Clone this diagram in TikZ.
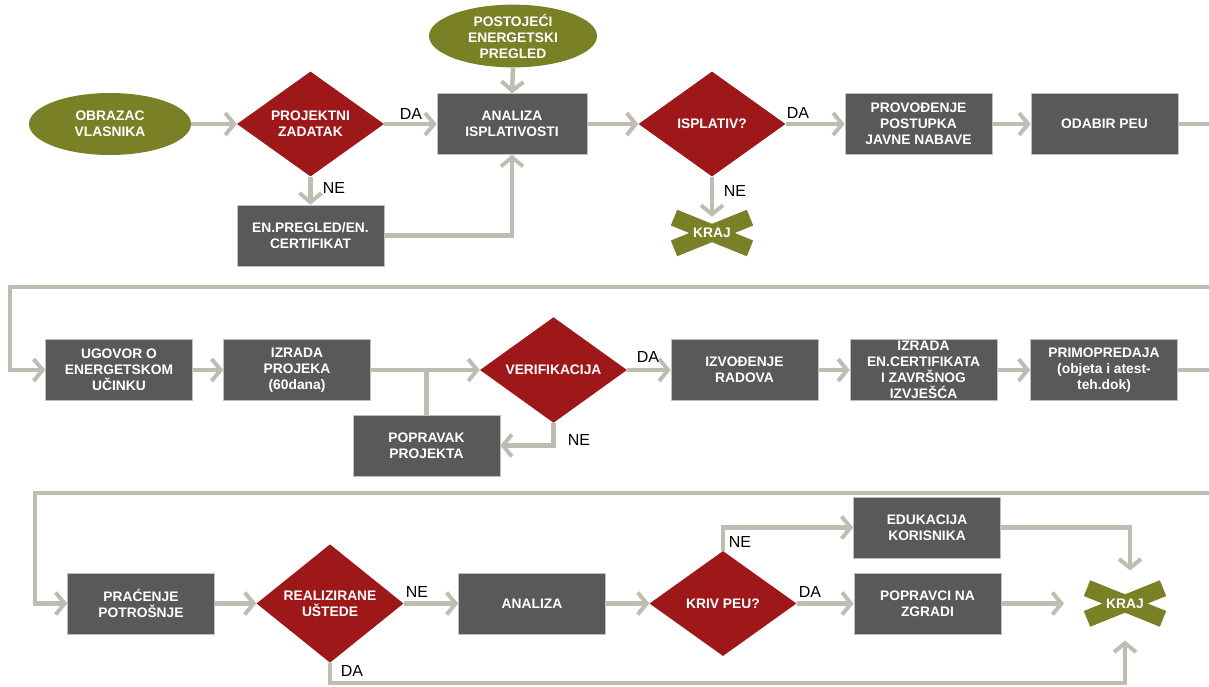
\documentclass[tikz,border=0pt]{standalone}
\usepackage{fontspec}
\setmainfont{Liberation Sans}
\usetikzlibrary{shapes.geometric,arrows.meta,calc}
\definecolor{olivec}{RGB}{121,128,38}
\definecolor{redc}{RGB}{158,24,26}
\definecolor{boxc}{RGB}{89,89,89}
\definecolor{linec}{RGB}{191,188,178}
\tikzset{
 txt/.style={text=white, font=\fontsize{13.8}{16}\selectfont\bfseries, align=center, inner sep=0pt},
 box/.style={txt, rectangle, fill=boxc, draw=black!25, line width=0.6pt, minimum width=147pt, minimum height=61pt},
 dia/.style={txt, diamond, fill=redc, minimum width=147pt, minimum height=105pt},
 ell/.style={txt, ellipse, fill=olivec, minimum width=162pt, minimum height=62pt},
 kraj/.style={txt, rectangle, minimum width=80pt, minimum height=32pt},
 conn/.style={draw=linec, line width=4.5pt, line join=miter},
 arr/.style={conn, -{Straight Barb[length=9pt,width=22pt,line width=4pt]}},
 lab/.style={font=\fontsize{16}{18}\selectfont, text=black, inner sep=0pt},
}
\newcommand\krajmark[3]{%
 \coordinate (#1c) at (#2,#3);
 \fill[olivec, rotate around={22:(#1c)}] ($(#1c)+(-41,-8.5)$) rectangle ($(#1c)+(41,8.5)$);
 \fill[olivec, rotate around={-22:(#1c)}] ($(#1c)+(-41,-8.5)$) rectangle ($(#1c)+(41,8.5)$);
 \node[kraj] (#1) at (#1c) {KRAJ};}
\begin{document}
\begin{tikzpicture}[x=1pt,y=-1pt]
\useasboundingbox (0,0) rectangle (1209,686);
% ---------- row 1
\node[ell] (e1) at (110,124) {OBRAZAC\\VLASNIKA};
\node[dia] (d1) at (310.5,124) {PROJEKTNI\\ZADATAK};
\node[box, minimum width=150pt] (b1) at (512,124) {ANALIZA\\ISPLATIVOSTI};
\node[ell, minimum width=168pt] (e2) at (513,36) {POSTOJEĆI\\ENERGETSKI\\PREGLED};
\node[box] (b2) at (310.5,235.5) {EN.PREGLED/EN.\\CERTIFIKAT};
\node[dia] (d2) at (712,124) {ISPLATIV?};
\node[box] (b3) at (918.5,124) {PROVOĐENJE\\POSTUPKA\\JAVNE NABAVE};
\node[box] (b4) at (1104.5,124) {ODABIR PEU};
\krajmark{k1}{712}{233}
\coordinate (x1) at (1209,124);
% ---------- row 2
\coordinate (t2a) at (1209,287);
\coordinate (t2b) at (10,287);
\node[box] (b5) at (119,370) {UGOVOR O\\ENERGETSKOM\\UČINKU};
\node[box] (b6) at (297,370) {IZRADA\\PROJEKA\\(60dana)};
\node[dia] (d3) at (553.5,370) {VERIFIKACIJA};
\node[box] (b7) at (426.5,445.5) {POPRAVAK\\PROJEKTA};
\node[box] (b8) at (744.5,370) {IZVOĐENJE\\RADOVA};
\node[box] (b9) at (923.5,370) {IZRADA\\EN.CERTIFIKATA\\I ZAVRŠNOG\\IZVJEŠĆA};
\node[box] (b10) at (1104,370) {PRIMOPREDAJA\\(objeta i  atest-\\teh.dok)};
\coordinate (x2) at (1209,370);
% ---------- row 3
\coordinate (t3a) at (1209,493);
\coordinate (t3b) at (35,493);
\node[box] (b11) at (141,603.5) {PRAĆENJE\\POTROŠNJE};
\node[dia, minimum height=104pt] (d4) at (330,603.5) {REALIZIRANE\\UŠTEDE};
\node[box] (b12) at (532,603.5) {ANALIZA};
\node[dia] (d5) at (723,603.5) {KRIV PEU?};
\node[box] (b13) at (927,527.5) {EDUKACIJA\\KORISNIKA};
\node[box] (b14) at (927.5,603.5) {POPRAVCI NA\\ZGRADI};
\krajmark{k2}{1125}{603.5}
\coordinate (bot) at (330,683);
% ---------- connectors row 1
\draw[arr] (e1.east) -- (d1.west);
\draw[arr] (d1.east) -- (b1.west);
\draw[arr] (d1.south) -- (b2.north);
\draw[arr] (e2.south) -- (b1.north);
\draw[arr] (b2.east) -- (b2.east -| b1.south) -- (b1.south);
\draw[arr] (b1.east) -- (d2.west);
\draw[arr] (d2.east) -- (b3.west);
\draw[arr] (d2.south) -- (k1.north);
\draw[arr] (b3.east) -- (b4.west);
\draw[conn] (b4.east) -- (x1);
% ---------- connectors row 2
\draw[arr] (t2a) -- (t2b) |- (b5.west);
\draw[arr] (b5.east) -- (b6.west);
\draw[arr] (b6.east) -- (d3.west);
\draw[conn] (b7.north) -- (b7.north |- b6.east);
\draw[arr] (d3.south) |- (b7.east);
\draw[arr] (d3.east) -- (b8.west);
\draw[arr] (b8.east) -- (b9.west);
\draw[arr] (b9.east) -- (b10.west);
\draw[conn] (b10.east) -- (x2);
% ---------- connectors row 3
\draw[arr] (t3a) -- (t3b) |- (b11.west);
\draw[arr] (b11.east) -- (d4.west);
\draw[arr] (d4.east) -- (b12.west);
\draw[arr] (b12.east) -- (d5.west);
\draw[arr] (d5.east) -- (b14.west);
\draw[arr] (d5.north) |- (b13.west);
\draw[arr] (b13.east) -| ($(k2c)+(5,-33)$);
\draw[arr] (b14.east) -- ($(k2c)+(-61,0)$);
\draw[arr] (d4.south) -- (bot) -| ($(k2c)+(0,37)$);
% ---------- labels
\node[lab] (l1) at (411,114) {DA};
\node[lab] (l2) at (334,188) {NE};
\node[lab] (l3) at (798,113) {DA};
\node[lab] (l4) at (735,191) {NE};
\node[lab] (l5) at (648,357) {DA};
\node[lab] (l6) at (579,440) {NE};
\node[lab] (l7) at (417,592) {NE};
\node[lab] (l8) at (352,671) {DA};
\node[lab] (l9) at (740,542) {NE};
\node[lab] (l10) at (810,592) {DA};
\end{tikzpicture}
\end{document}
